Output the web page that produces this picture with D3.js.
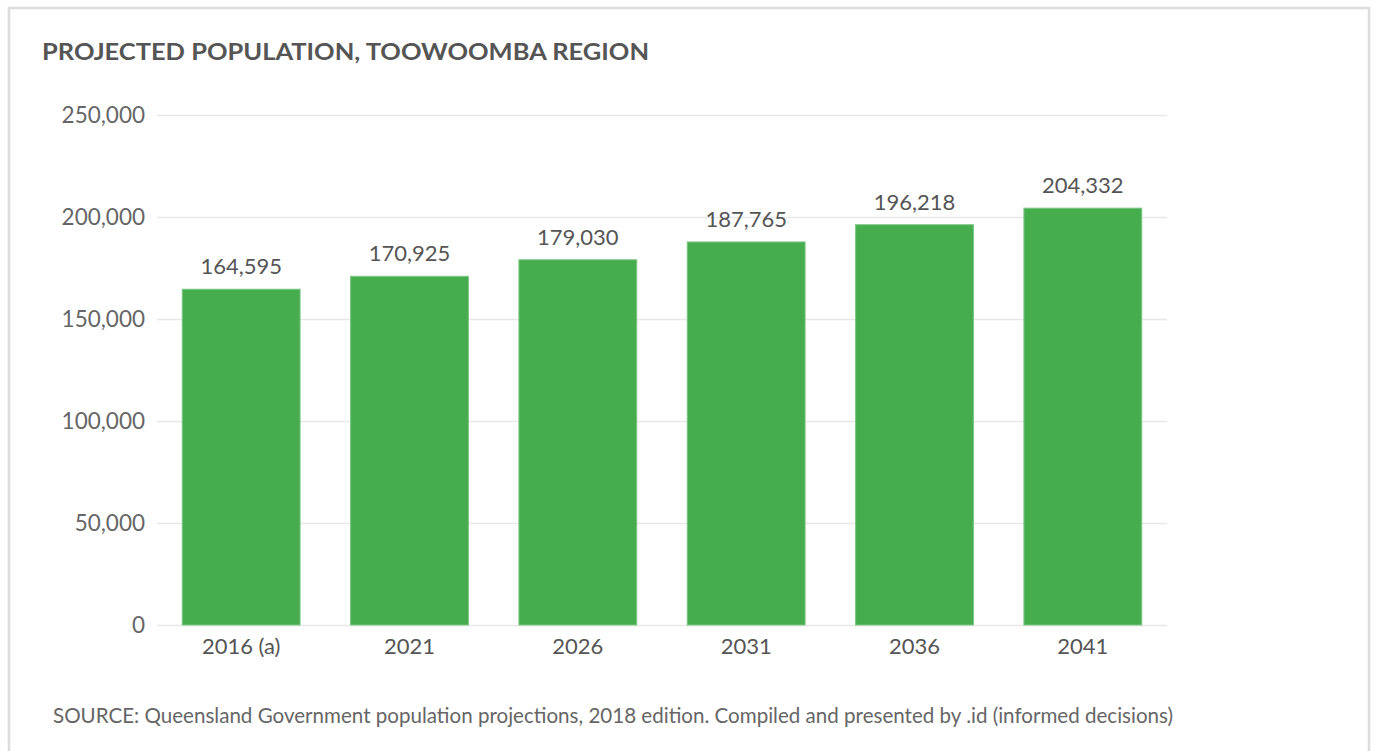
<!DOCTYPE html>
<html lang="en">
<head>
    <meta charset="UTF-8">
    <title>Projected population, Toowoomba Region</title>
    <script src="https://cdn.jsdelivr.net/npm/d3@7"></script>
</head>
<style>
    body { margin: 0; background: #fff; }
    svg { display: block; font-family: Lato, "Open Sans", sans-serif; }
</style>
<body>
</body>
<script>

    // data
    var years = ["2016 (a)", "2021", "2026", "2031", "2036", "2041"];
    var population = [164595, 170925, 179030, 187765, 196218, 204332];
    var yTicks = [0, 50000, 100000, 150000, 200000, 250000];

    var w = 1376, h = 751;
    // plot area (avoid the name "top", it is window.top)
    var plotL = 157, plotR = 1167, plotT = 115, plotB = 625;

    var svg = d3.select("body").append("svg")
            .attr("width", w)
            .attr("height", h);

    // card
    svg.append("rect")
            .attr("x", 9).attr("y", 8)
            .attr("width", 1360).attr("height", 760)
            .attr("fill", "#fff")
            .attr("stroke", "#dcdcdc")
            .attr("stroke-width", 2.5);

    svg.append("text")
            .attr("x", 42).attr("y", 60)
            .attr("font-size", "23px")
            .attr("font-weight", "bold")
            .attr("fill", "#555")
            .attr("textLength", 607)
            .attr("lengthAdjust", "spacingAndGlyphs")
            .text("PROJECTED POPULATION, TOOWOOMBA REGION");

    var x = d3.scaleBand()
            .domain(years)
            .range([plotL, plotR])
            .paddingInner(0.3)
            .paddingOuter(0.15);

    var y = d3.scaleLinear()
            .domain([0, 250000])
            .range([plotB, plotT]);

    // grid + y labels
    var yAxis = svg.append("g")
            .attr("transform", "translate(" + plotL + ",0)")
            .call(d3.axisLeft(y).tickValues(yTicks).tickSize(-(plotR - plotL)).tickPadding(12)
                    .tickFormat(d3.format(",")));
    yAxis.select(".domain").remove();
    yAxis.selectAll("line").attr("stroke", "#e8e8e8").attr("stroke-width", 1.5);
    yAxis.selectAll("text")
            .attr("font-size", "22.5px")
            .attr("font-family", "Lato, sans-serif")
            .attr("fill", "#666");

    svg.selectAll("rect.bar")
            .data(population)
            .enter()
            .append("rect")
            .attr("class", "bar")
            .attr("x", function (d, i) { return x(years[i]); })
            .attr("y", function (d) { return y(d); })
            .attr("width", x.bandwidth())
            .attr("height", function (d) { return y(0) - y(d); })
            .attr("fill", "#45ad4e")
            .attr("stroke", "#7cc683")
            .attr("stroke-width", 1);

    svg.selectAll("text.val")
            .data(population)
            .enter()
            .append("text")
            .attr("class", "val")
            .attr("x", function (d, i) { return x(years[i]) + x.bandwidth() / 2; })
            .attr("y", function (d) { return y(d) - 15; })
            .attr("text-anchor", "middle")
            .attr("font-size", "22px")
            .attr("fill", "#555")
            .text(d3.format(","));

    var xAxis = svg.append("g")
            .attr("transform", "translate(0," + plotB + ")")
            .call(d3.axisBottom(x).tickSize(0).tickPadding(13));
    xAxis.select(".domain").remove();
    xAxis.selectAll("text")
            .attr("font-size", "22px")
            .attr("font-family", "Lato, sans-serif")
            .attr("fill", "#555");

    svg.append("text")
            .attr("x", 53).attr("y", 723)
            .attr("font-size", "20.5px")
            .attr("fill", "#666")
            .attr("textLength", 1120)
            .attr("lengthAdjust", "spacingAndGlyphs")
            .text("SOURCE: Queensland Government population projections, 2018 edition. Compiled and presented by .id (informed decisions)");
</script>
</html>
